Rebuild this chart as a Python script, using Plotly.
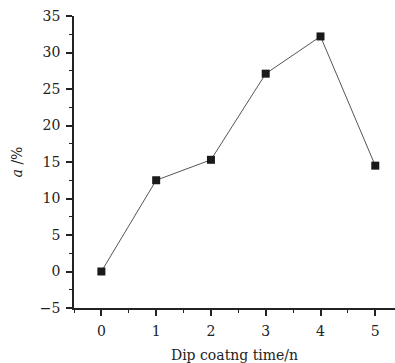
import plotly.graph_objects as go

dip_times = [0, 1, 2, 3, 4, 5]
alpha_pct = [0.0, 12.5, 15.3, 27.1, 32.2, 14.5]

font_family = "DejaVu Serif, Liberation Serif, serif"

fig = go.Figure()
fig.add_trace(go.Scatter(
    x=dip_times, y=alpha_pct, mode="lines+markers",
    line=dict(color="#555555", width=1),
    marker=dict(symbol="square", size=8, color="#1a1a1a"),
    showlegend=False,
))

fig.update_layout(
    width=395, height=363,
    margin=dict(l=74, r=0, t=16, b=55),
    paper_bgcolor="white", plot_bgcolor="white",
    font=dict(family=font_family, size=14, color="#222222"),
)
fig.update_xaxes(
    range=[-0.5, 5.36], tickvals=[0, 1, 2, 3, 4, 5],
    showgrid=False, zeroline=False,
    showline=True, linecolor="#222222", linewidth=1.5,
    ticks="outside", ticklen=6, tickwidth=1.5, tickcolor="#222222",
    ticklabelstandoff=3,
    minor=dict(dtick=0.5, tick0=0, ticks="outside", ticklen=3, tickwidth=1.2, tickcolor="#222222"),
    title=dict(text="Dip coatng time/n", font=dict(size=14), standoff=14),
)
fig.update_yaxes(
    range=[-5, 35], tickvals=[-5, 0, 5, 10, 15, 20, 25, 30, 35],
    showgrid=False, zeroline=False,
    showline=True, linecolor="#222222", linewidth=1.5,
    ticks="outside", ticklen=6, tickwidth=1.5, tickcolor="#222222",
    ticklabelstandoff=3,
    minor=dict(dtick=2.5, tick0=0, ticks="outside", ticklen=3, tickwidth=1.2, tickcolor="#222222"),
    title=dict(text="<i>a</i> /%", font=dict(size=14), standoff=14),
)

fig.write_html("out.html")
